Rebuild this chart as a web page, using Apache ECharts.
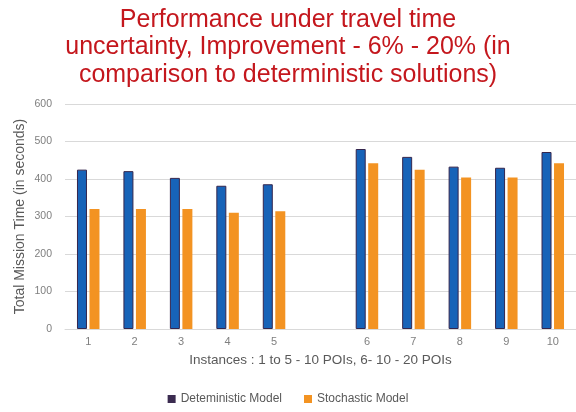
<!DOCTYPE html>
<html>
<head>
<meta charset="utf-8">
<script src="https://cdn.jsdelivr.net/npm/echarts@6/dist/echarts.min.js"></script>
<style>
  html, body { margin: 0; padding: 0; background: #fff; }
  #chart { width: 576px; height: 412px; }
</style>
</head>
<body>
<div id="chart"></div>
<script>
// categories (empty slot between 5 and 6 is the gap in the original)
const instances = ['1', '2', '3', '4', '5', '', '6', '7', '8', '9', '10'];
const deterministic = [425, 421, 403, 382, 386, '-', 480, 459, 433, 430, 472];
const stochastic = [320, 320, 320, 310, 314, '-', 442, 425, 404, 404, 442];
const yTicks = [0, 100, 200, 300, 400, 500, 600];

// 初始化
const myChart = echarts.init(document.getElementById('chart'));

const option = {
  animation: false,
  textStyle: { fontFamily: 'Liberation Sans, Arial, sans-serif' },
  title: {
    text: 'Performance under travel time\nuncertainty, Improvement - 6% - 20% (in\ncomparison to deterministic solutions)',
    left: 'center',
    top: 1,
    textStyle: {
      fontSize: 25,
      fontWeight: 'normal',
      color: '#c4171d',
      lineHeight: 27.5,
    },
  },
  legend: {
    bottom: 2,
    left: 'center',
    itemWidth: 8,
    itemHeight: 8,
    itemGap: 22,
    icon: 'rect',
    textStyle: { fontSize: 12, color: '#595959' },
    data: [
      { name: 'Deteministic Model', itemStyle: { color: '#3b2b50', borderWidth: 0 } },
      { name: 'Stochastic Model', itemStyle: { color: '#f39322', borderWidth: 0 } },
    ],
  },
  grid: {
    left: 65,
    right: 0,
    top: 104,
    bottom: 83,
  },
  xAxis: {
    type: 'category',
    data: instances,
    name: 'Instances : 1 to 5 - 10 POIs, 6- 10 - 20 POIs',
    nameLocation: 'middle',
    nameGap: 24,
    nameTextStyle: { fontSize: 13.5, color: '#595959' },
    axisTick: { show: false },
    axisLine: { lineStyle: { color: '#d9d9d9' } },
    axisLabel: { fontSize: 11, color: '#7f7f7f', margin: 7 },
  },
  yAxis: {
    type: 'value',
    min: yTicks[0],
    max: yTicks[yTicks.length - 1],
    interval: 100,
    name: 'Total Mission Time (in seconds)',
    nameLocation: 'middle',
    nameGap: 38,
    nameMoveOverlap: false,
    nameTextStyle: { fontSize: 14, color: '#595959' },
    axisLabel: { fontSize: 10.5, color: '#7f7f7f', margin: 13 },
    splitLine: { lineStyle: { color: '#d9d9d9' } },
  },
  series: [
    {
      name: 'Deteministic Model',
      type: 'bar',
      data: deterministic,
      barWidth: 10,
      barGap: '25%',
      itemStyle: { color: '#1763b8', borderColor: '#35264d', borderWidth: 1 },
    },
    {
      name: 'Stochastic Model',
      type: 'bar',
      data: stochastic,
      barWidth: 10,
      itemStyle: { color: '#f39322' },
    },
  ],
};

option && myChart.setOption(option);
</script>
</body>
</html>
